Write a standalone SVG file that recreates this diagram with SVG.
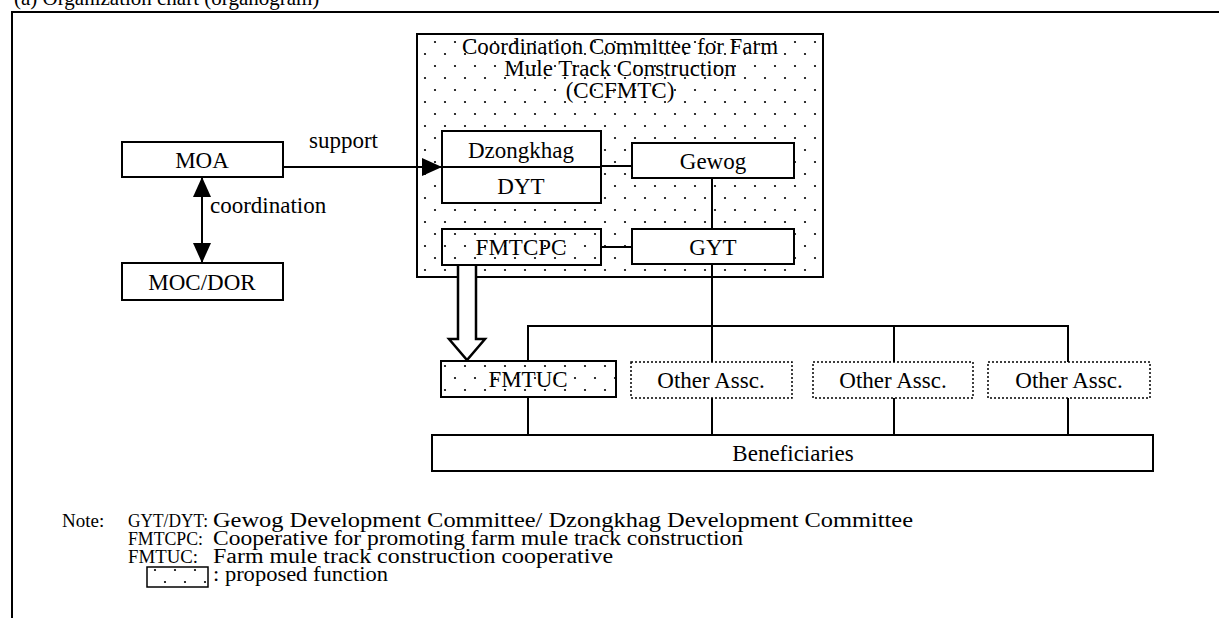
<svg xmlns="http://www.w3.org/2000/svg" width="1219" height="618" viewBox="0 0 1219 618">
<defs>
<pattern id="dots" width="20" height="24" patternUnits="userSpaceOnUse">
<rect width="20" height="24" fill="#fff"/>
<circle cx="5" cy="6" r="1.1" fill="#000"/>
<circle cx="15" cy="18" r="1.1" fill="#000"/>
</pattern>
<marker id="arr" viewBox="0 0 20 18" refX="20" refY="9" markerWidth="20" markerHeight="18" markerUnits="userSpaceOnUse" orient="auto-start-reverse">
<path d="M0,0 L20,9 L0,18 Z" fill="#000"/>
</marker>
<style>
text{font-family:"Liberation Serif","Times New Roman",serif;fill:#000;}
.t{font-size:23px;text-anchor:middle;}
.l{font-size:23px;}
.n{font-size:20px;}
.k{font-size:19px;}
.box{fill:#fff;stroke:#000;stroke-width:2;}
.dot{fill:url(#dots);stroke:#000;stroke-width:2;}
.dash{fill:#fff;stroke:#000;stroke-width:1.5;stroke-dasharray:2 2;}
.ln{fill:none;stroke:#000;stroke-width:2;}
</style>
</defs>
<rect width="1219" height="618" fill="#fff"/>
<text x="14" y="5" style="font-size:21px">(a) Organization chart (organogram)</text>
<path class="ln" d="M12,618 V12 H1219"/>

<g id="moa"><rect class="box" x="122" y="142" width="161" height="35"/><text class="t" x="202" y="168">MOA</text></g>
<g id="mocdor"><rect class="box" x="122" y="263" width="161" height="37"/><text class="t" x="202" y="290">MOC/DOR</text></g>

<g id="ccfmtc">
<rect class="dot" x="417" y="34" width="406" height="243"/>
<text class="t" x="620" y="54">Coordination Committee for Farm</text>
<text class="t" x="620" y="76">Mule Track Construction</text>
<text class="t" x="620" y="98">(CCFMTC)</text>
</g>
<g id="dzongkhag"><rect class="box" x="442" y="131" width="159" height="72"/><line class="ln" x1="442" y1="167" x2="601" y2="167"/><text class="t" x="521" y="158">Dzongkhag</text><text class="t" x="521" y="194">DYT</text></g>
<g id="gewog"><rect class="box" x="632" y="143" width="162" height="35"/><text class="t" x="713" y="169">Gewog</text></g>
<g id="fmtcpc"><rect class="dot" x="442" y="229" width="159" height="36"/><text class="t" x="521" y="255">FMTCPC</text></g>
<g id="gyt"><rect class="box" x="632" y="229" width="162" height="35"/><text class="t" x="713" y="255">GYT</text></g>
<g id="fmtuc"><rect class="dot" x="441" y="361" width="175" height="36"/><text class="t" x="528" y="387">FMTUC</text></g>
<g id="other1"><rect class="dash" x="631" y="362" width="161" height="36"/><text class="t" x="711" y="388">Other Assc.</text></g>
<g id="other2"><rect class="dash" x="813" y="362" width="160" height="36"/><text class="t" x="893" y="388">Other Assc.</text></g>
<g id="other3"><rect class="dash" x="988" y="362" width="162" height="36"/><text class="t" x="1069" y="388">Other Assc.</text></g>
<g id="beneficiaries"><rect class="box" x="432" y="435" width="721" height="36"/><text class="t" x="793" y="461">Beneficiaries</text></g>

<g id="connectors">
<line class="ln" x1="283" y1="167" x2="442" y2="167" marker-end="url(#arr)"/>
<line class="ln" x1="202" y1="177" x2="202" y2="263" marker-start="url(#arr)" marker-end="url(#arr)"/>
<line class="ln" x1="601" y1="166" x2="632" y2="166"/>
<line class="ln" x1="712" y1="178" x2="712" y2="229"/>
<line class="ln" x1="601" y1="247" x2="632" y2="247"/>
<line class="ln" x1="712" y1="264" x2="712" y2="362"/>
<path class="ln" d="M528,361 V326 H1068 V362"/>
<line class="ln" x1="894" y1="326" x2="894" y2="362"/>
<line class="ln" x1="528" y1="397" x2="528" y2="435"/>
<line class="ln" x1="712" y1="398" x2="712" y2="435"/>
<line class="ln" x1="894" y1="398" x2="894" y2="435"/>
<line class="ln" x1="1068" y1="398" x2="1068" y2="435"/>
<path d="M458,266 V339 H449 L467,360 L485,339 H476 V266" fill="#fff" stroke="#000" stroke-width="2.5" stroke-linejoin="miter"/>
<text class="l" x="309" y="148">support</text>
<text class="l" x="210" y="213">coordination</text>
</g>

<g id="note">
<text class="k" x="62" y="527">Note:</text>
<text class="k" x="128" y="527" textLength="80" lengthAdjust="spacingAndGlyphs">GYT/DYT:</text>
<text class="n" x="213" y="527" textLength="700" lengthAdjust="spacingAndGlyphs">Gewog Development Committee/ Dzongkhag Development Committee</text>
<text class="k" x="128" y="545" textLength="75" lengthAdjust="spacingAndGlyphs">FMTCPC:</text>
<text class="n" x="213" y="545" textLength="530" lengthAdjust="spacingAndGlyphs">Cooperative for promoting farm mule track construction</text>
<text class="k" x="128" y="563" textLength="70" lengthAdjust="spacingAndGlyphs">FMTUC:</text>
<text class="n" x="213" y="563" textLength="400" lengthAdjust="spacingAndGlyphs">Farm mule track construction cooperative</text>
<rect class="dot" x="147" y="567" width="61" height="20" style="stroke-width:1.5"/>
<text class="n" x="213" y="581" textLength="175" lengthAdjust="spacingAndGlyphs">: proposed function</text>
</g>
</svg>
